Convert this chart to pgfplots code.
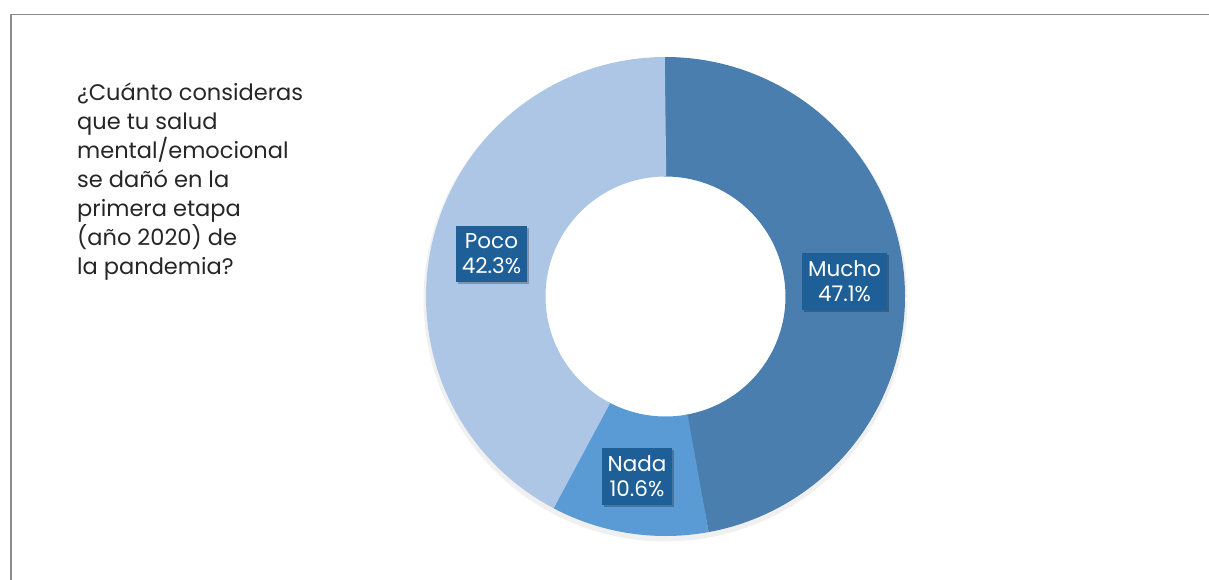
\documentclass[border=0pt]{standalone}
\usepackage{pgfplots}
\pgfplotsset{compat=1.18}
\usepackage{fontspec}
\setmainfont{Poppins}
\usetikzlibrary{shadows}
\definecolor{cMucho}{HTML}{4A7EAF}
\definecolor{cNada}{HTML}{5B9BD5}
\definecolor{cPoco}{HTML}{AEC6E6}
\definecolor{cBox}{HTML}{1F5F97}
\definecolor{cFrame}{HTML}{8C8C8C}
% values (percent)
\def\vMucho{47.1}
\def\vNada{10.6}
\def\vPoco{42.3}
\begin{document}
\begin{tikzpicture}
\pgfmathsetmacro{\aA}{90}
\pgfmathsetmacro{\aB}{90-3.6*\vMucho}
\pgfmathsetmacro{\aC}{\aB-3.6*\vNada}
\pgfmathsetmacro{\aD}{\aC-3.6*\vPoco}
\pgfmathsetmacro{\aAe}{\aA+0.25}
\pgfmathsetmacro{\aBe}{\aB-0.25}
\pgfmathsetmacro{\aCe}{\aC-0.25}
\begin{axis}[
  width=1209pt, height=580pt, scale only axis,
  xmin=0, xmax=1209, ymin=0, ymax=580, y dir=reverse,
  hide axis, clip=false,
]
% frame
\draw[cFrame, line width=1.6pt] (axis cs:11,582) -- (axis cs:11,14.5) -- (axis cs:1210,14.5);
% soft shadow of the ring
\addplot[draw=black, opacity=0.06, line width=117pt, domain=0:360, samples=180] ({665.5+183.5*cos(x)},{299.5-183.5*sin(x)});
% slices
\addplot[draw=cMucho, line width=119.5pt, line cap=butt, domain=\aBe:\aAe, samples=120] ({665.5+179.75*cos(x)},{296.5-179.75*sin(x)});
\addplot[draw=cNada, line width=119.5pt, line cap=butt, domain=\aCe:\aB, samples=60] ({665.5+179.75*cos(x)},{296.5-179.75*sin(x)});
\addplot[draw=cPoco, line width=119.5pt, line cap=butt, domain=\aD:\aC, samples=120] ({665.5+179.75*cos(x)},{296.5-179.75*sin(x)});
% labels
\tikzset{lbl/.style={fill=cBox, text=white, align=center, inner xsep=6pt, inner ysep=8pt,
  font=\fontsize{21.5}{25}\selectfont,
  drop shadow={shadow xshift=2pt, shadow yshift=-2pt, opacity=0.25, fill=black}}}
\node[lbl] at (axis cs:491.5,254) {Poco\\42.3\%};
\node[lbl] at (axis cs:844.5,281.5) {Mucho\\47.1\%};
\node[lbl] at (axis cs:637,476.5) {Nada\\10.6\%};
% question
\node[anchor=north west, align=left, inner sep=0pt, text=black!85, font=\fontsize{22.5}{29}\selectfont]
  at (axis cs:77,83) {¿Cuánto consideras\\que tu salud\\mental/emocional\\se dañó en la\\primera etapa\\(año 2020) de\\la pandemia?};
\end{axis}
\pgfresetboundingbox
\path (0,0) rectangle (1209pt,580pt);
\end{tikzpicture}
\end{document}
